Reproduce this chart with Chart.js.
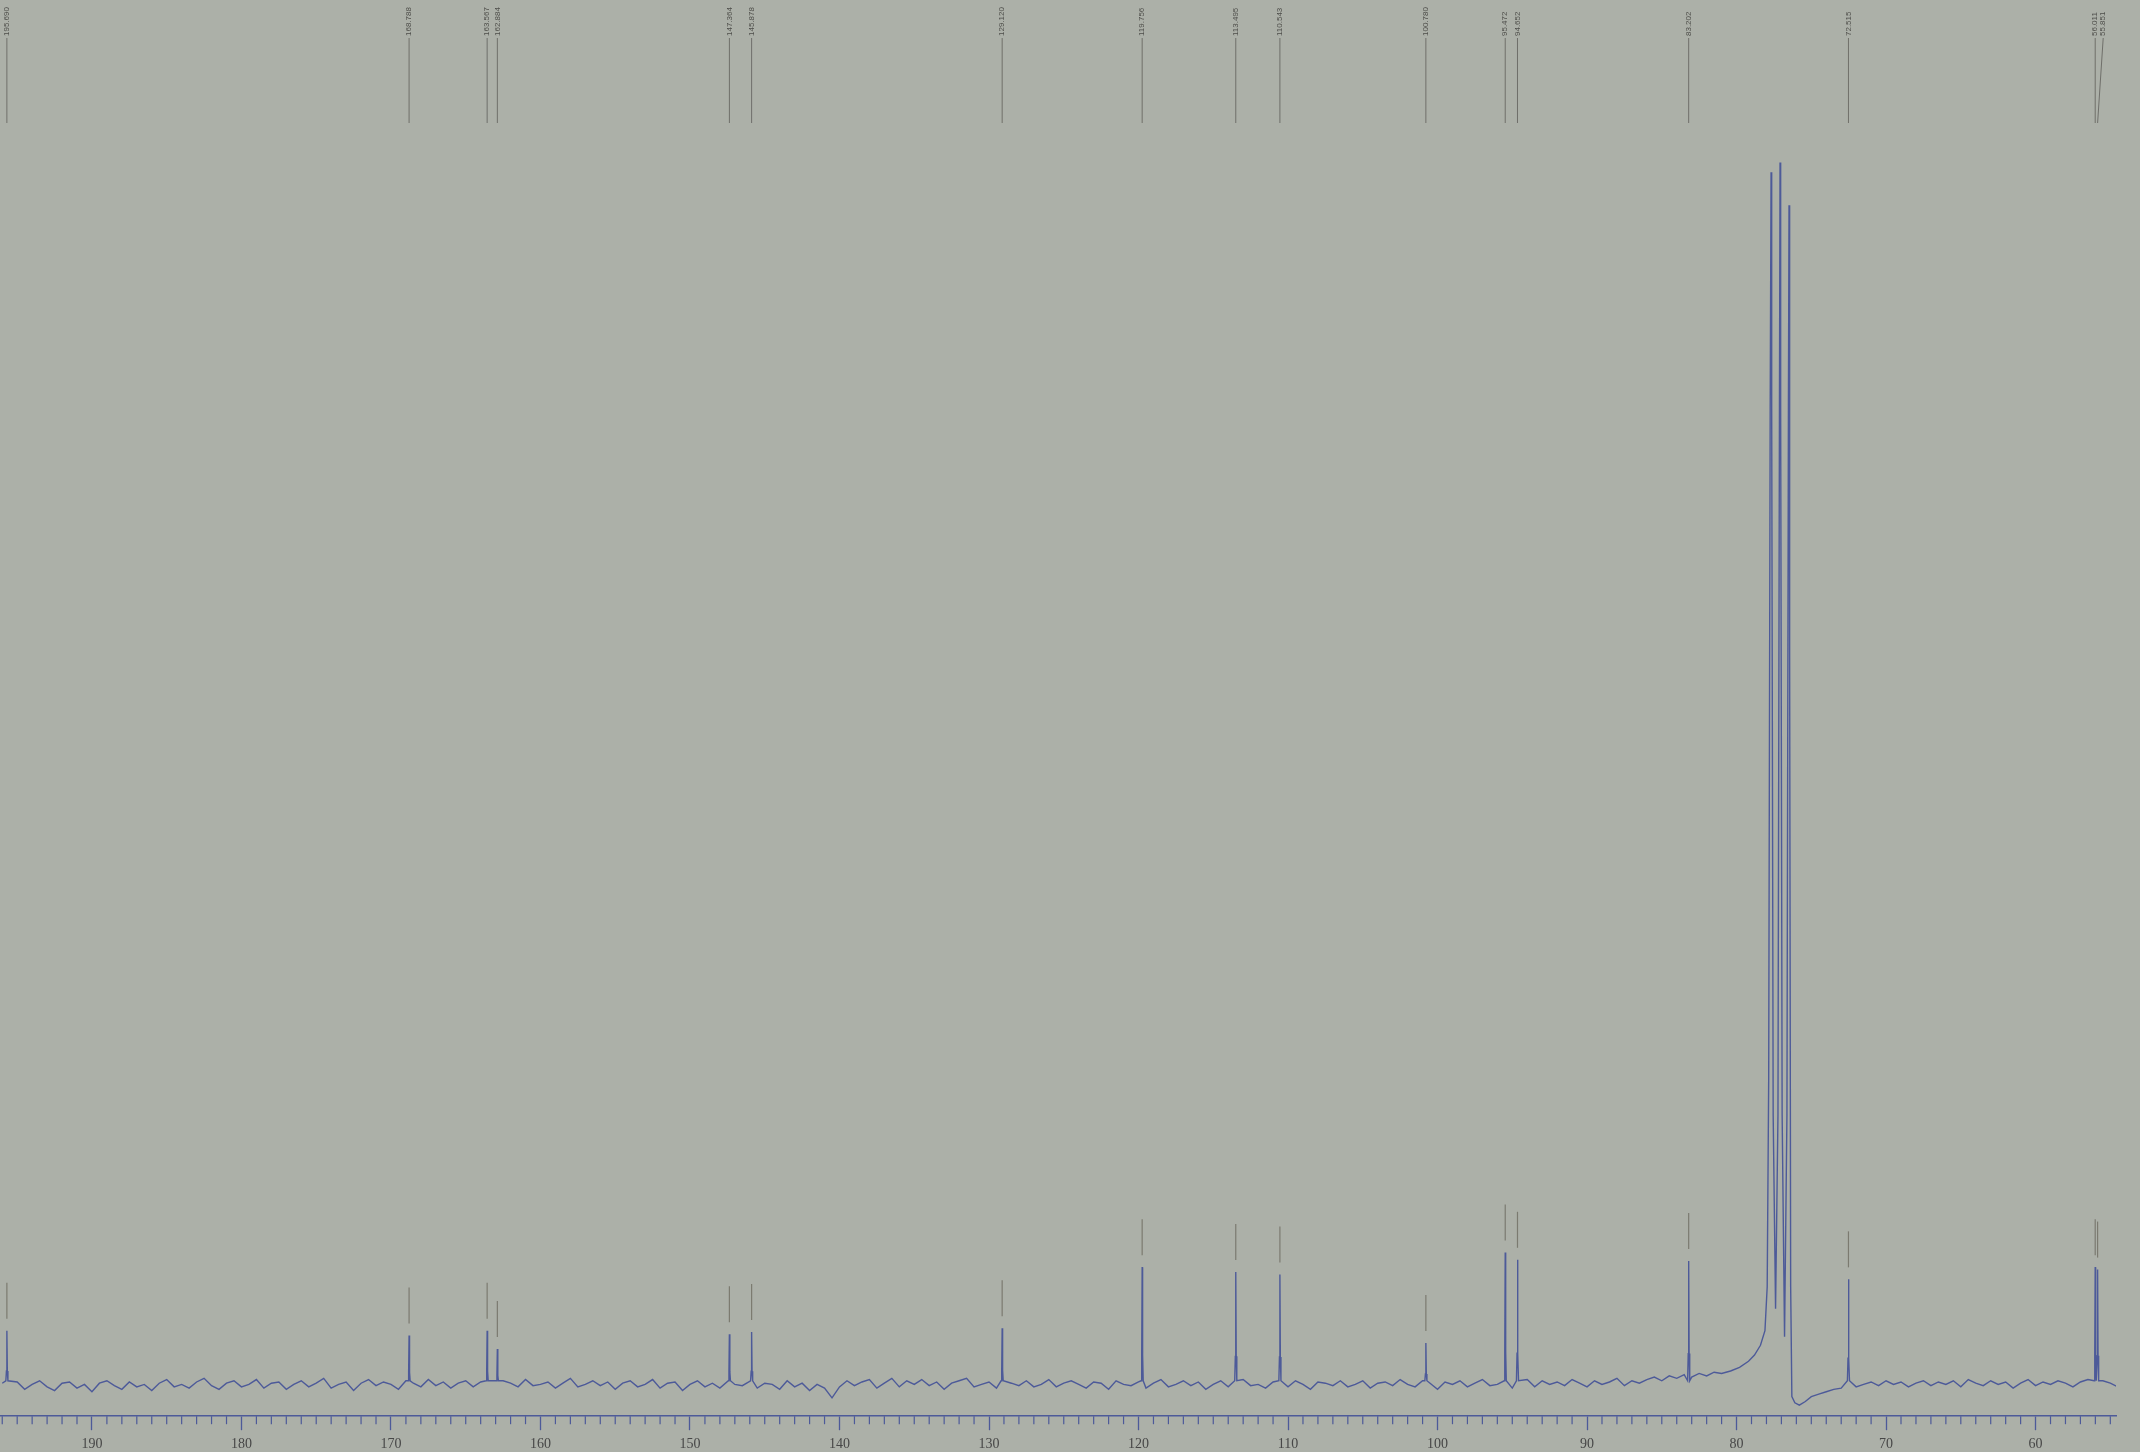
<!DOCTYPE html>
<html>
<head>
<meta charset="utf-8">
<script src="https://cdn.jsdelivr.net/npm/chart.js@4.4.1/dist/chart.umd.min.js"></script>
<style>
  html, body { margin: 0; padding: 0; background: #acb0a8; }
  #wrap { width: 2140px; height: 1452px; }
</style>
</head>
<body>
<div id="wrap"><canvas id="nmr" width="2140" height="1452"></canvas></div>
<script>
// picked peaks (ppm), height (tallest solvent line = 100)
var peakPpm    = [195.690, 168.788, 163.567, 162.884, 147.364, 145.878, 129.120, 119.756, 113.495, 110.543, 100.780, 95.472, 94.652, 83.202, 72.515, 56.011, 55.851];
var peakHeight = [4.4, 4.0, 4.4, 2.9, 4.1, 4.3, 4.6, 9.6, 9.2, 9.0, 3.4, 10.8, 10.2, 10.1, 8.6, 9.6, 9.4];
var peakLabels = ['195.690', '168.788', '163.567', '162.884', '147.364', '145.878', '129.120', '119.756', '113.495', '110.543', '100.780', '95.472', '94.652', '83.202', '72.515', '56.011', '55.851'];

// CDCl3 triplet and its skirt
var solventPpm = [81.0, 80.4, 79.8, 79.2, 78.8, 78.4, 78.1, 77.95, 77.85, 77.75, 77.69, 77.65, 77.55, 77.39, 77.23, 77.13, 77.09, 77.05, 76.95, 76.79, 76.63, 76.53, 76.49, 76.45, 76.38, 76.3, 76.1, 75.8, 75.4, 75.0, 74.5];
var solventVal = [0.9, 1.1, 1.4, 1.9, 2.4, 3.2, 4.4, 8, 25, 80, 99.2, 80, 22, 6.2, 22, 80, 100, 80, 22, 3.9, 22, 80, 96.5, 60, 8, -1.0, -1.5, -1.7, -1.4, -1.0, -0.8];

// baseline noise, one reading every 0.5 ppm from 196.0 down to 54.5
var baseStart = 196.0;
var baseStep = 0.5;
var baseline = [
  0.1,-0.3,0.2,-0.4,0.0,0.3,-0.2,-0.5,0.1,0.2,-0.3,0.0,-0.6,0.1,0.3,-0.1,-0.4,0.2,-0.2,0.0,
  -0.5,0.1,0.4,-0.2,0.0,-0.3,0.2,0.5,-0.1,-0.4,0.1,0.3,-0.2,0.0,0.4,-0.3,0.1,0.2,-0.4,0.0,
  0.3,-0.2,0.1,0.5,-0.3,0.0,0.2,-0.5,0.1,0.4,-0.1,0.2,0.0,-0.4,0.3,0.1,-0.2,0.4,-0.1,0.2,
  -0.3,0.1,0.3,-0.2,0.2,0.0,-0.5,0.3,0.1,-0.2,0.4,-0.1,0.0,0.2,-0.3,0.1,0.5,-0.2,0.0,0.3,
  -0.1,0.2,-0.4,0.1,0.3,-0.2,0.0,0.4,-0.3,0.1,0.2,-0.5,0.0,0.3,-0.2,0.1,-0.3,0.2,0.0,-0.1,
  0.2,-0.3,0.1,0.0,-0.4,0.3,-0.2,0.1,-0.5,0.0,-0.3,-1.1,-0.2,0.3,-0.1,0.2,0.4,-0.3,0.1,0.5,
  -0.2,0.3,0.0,0.4,-0.1,0.2,-0.4,0.1,0.3,0.5,-0.2,0.0,0.2,-0.3,0.4,0.1,-0.1,0.3,-0.2,0.0,
  0.4,-0.2,0.1,0.3,0.0,-0.3,0.2,0.1,-0.4,0.3,0.0,-0.1,0.2,-0.3,0.1,0.4,-0.2,0.0,0.3,-0.1,
  0.2,-0.4,0.0,0.3,-0.2,0.1,0.4,-0.1,0.0,-0.3,0.2,0.1,-0.2,0.3,0.0,-0.4,0.2,0.1,-0.1,0.3,
  -0.2,0.0,0.3,-0.3,0.1,0.2,-0.1,0.4,0.0,-0.2,0.3,0.1,-0.4,0.2,0.0,0.3,-0.2,0.1,0.4,-0.1,
  0.0,0.2,-0.3,0.1,0.4,-0.2,0.3,0.0,0.2,-0.1,0.4,0.1,-0.2,0.3,0.0,0.2,0.5,-0.1,0.3,0.1,
  0.4,0.6,0.3,0.7,0.5,0.8,0.6,0.9,0.7,1.0,0.9,1.1,1.3,1.6,2.0,3.0,0,0,0,0,
  -2.0,-1.8,-1.4,-1.0,-0.6,-0.4,-0.3,0.0,-0.2,0.0,0.2,-0.1,0.3,0.0,0.2,-0.2,0.1,0.3,-0.1,0.2,
  0.0,0.3,-0.2,0.4,0.1,-0.1,0.3,0.0,0.2,-0.3,0.1,0.4,-0.1,0.2,0.0,0.3,0.1,-0.2,0.2,0.4,
  0.5,0.3,0.1,-0.2
];

var pts = [];
var solvHi = solventPpm[0], solvLo = solventPpm[solventPpm.length - 1];
for (var i = 0; i < baseline.length; i++) {
  var p = baseStart - i * baseStep;
  if (p <= solvHi && p >= solvLo) continue;
  var nearPeak = peakPpm.some(function (q) { return Math.abs(q - p) < 0.2; });
  if (nearPeak) continue;
  pts.push({ x: p, y: baseline[i] });
}
for (var j = 0; j < solventPpm.length; j++) pts.push({ x: solventPpm[j], y: solventVal[j] });
for (var k = 0; k < peakPpm.length; k++) {
  var c = peakPpm[k], h = peakHeight[k];
  pts.push({ x: c + 0.07, y: 0.3 });
  pts.push({ x: c + 0.03, y: h * 0.25 });
  pts.push({ x: c, y: h });
  pts.push({ x: c - 0.03, y: h * 0.25 });
  pts.push({ x: c - 0.07, y: 0.3 });
}
pts.sort(function (a, b) { return b.x - a.x; });

var blue = '#4d5a99';

var paper = {
  id: 'paper',
  beforeDraw: function (chart) {
    var g = chart.ctx;
    g.save();
    g.fillStyle = '#acb0a8';
    g.fillRect(0, 0, chart.width, chart.height);
    g.restore();
  }
};

var extras = {
  id: 'extras',
  afterDraw: function (chart) {
    var g = chart.ctx, xs = chart.scales.x, ys = chart.scales.y;
    var bottom = chart.chartArea.bottom;
    g.save();
    // minor ticks every 1 ppm
    g.strokeStyle = blue;
    g.lineWidth = 1.2;
    for (var v = Math.ceil(xs.min); v <= Math.floor(xs.max); v++) {
      if (v % 10 === 0) continue;
      var mx = xs.getPixelForValue(v);
      g.beginPath();
      g.moveTo(mx, bottom);
      g.lineTo(mx, bottom + 8);
      g.stroke();
    }
    // peak pick markers above each peak
    g.strokeStyle = '#7b7a70';
    g.lineWidth = 1.2;
    for (var i = 0; i < peakPpm.length; i++) {
      var px = xs.getPixelForValue(peakPpm[i]);
      var top = ys.getPixelForValue(peakHeight[i]);
      g.beginPath();
      g.moveTo(px, top - 48);
      g.lineTo(px, top - 12);
      g.stroke();
    }
    // peak labels along the top
    var lastX = -100;
    g.font = '8px "Liberation Sans"';
    g.fillStyle = '#4e4e4a';
    g.textBaseline = 'middle';
    g.textAlign = 'left';
    for (var n = 0; n < peakPpm.length; n++) {
      var peakX = xs.getPixelForValue(peakPpm[n]);
      var tx = Math.max(peakX, lastX + 8);
      lastX = tx;
      g.strokeStyle = '#6f6f6a';
      g.lineWidth = 1;
      g.beginPath();
      g.moveTo(tx, 38);
      g.lineTo(peakX, 123);
      g.stroke();
      g.save();
      g.translate(tx, 36);
      g.rotate(-Math.PI / 2);
      g.fillText(peakLabels[n], 0, 0);
      g.restore();
    }
    g.restore();
  }
};

var ctx = document.getElementById('nmr').getContext('2d');
var chart = new Chart(ctx, {
  type: 'line',
  data: {
    datasets: [{
      data: pts,
      borderColor: blue,
      borderWidth: 1.4,
      pointRadius: 0,
      tension: 0,
      fill: false
    }]
  },
  options: {
    responsive: false,
    animation: false,
    devicePixelRatio: 1,
    layout: { padding: { left: 0, right: 24, top: 0, bottom: -7 } },
    plugins: {
      legend: { display: false },
      tooltip: { enabled: false }
    },
    scales: {
      x: {
        type: 'linear',
        reverse: true,
        min: 54.62,
        max: 196.15,
        afterBuildTicks: function (scale) {
          var t = [];
          for (var v = 60; v <= 190; v += 10) t.push({ value: v });
          scale.ticks = t;
        },
        ticks: {
          autoSkip: false,
          maxRotation: 0,
          padding: 6,
          color: '#474747',
          font: { family: '"Liberation Serif", serif', size: 14 },
          callback: function (v) { return String(v); }
        },
        grid: {
          drawOnChartArea: false,
          drawTicks: true,
          tickLength: 14,
          tickColor: blue,
          tickWidth: 1.3
        },
        border: { display: true, color: blue, width: 1.5 }
      },
      y: {
        display: false,
        min: -2.6,
        max: 113.3
      }
    }
  },
  plugins: [paper, extras]
});
</script>
</body>
</html>
